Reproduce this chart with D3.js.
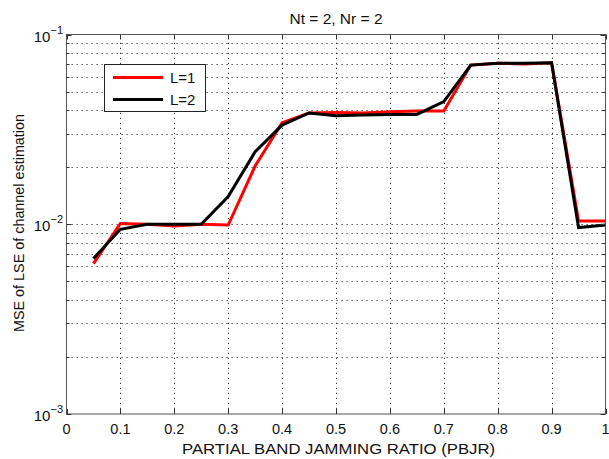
<!DOCTYPE html>
<html>
<head>
<meta charset="utf-8">
<script src="https://cdn.jsdelivr.net/npm/d3@7"></script>
<style>
body{margin:0;background:#fff;}
text{font-family:"Liberation Sans",Arial,sans-serif;fill:#111;}
</style>
</head>
<body>
<script>

// donnees
var pbjr=[0.05,0.1,0.15,0.2,0.25,0.3,0.35,0.4,0.45,0.5,0.55,0.6,0.65,0.7,0.75,0.8,0.85,0.9,0.95,1.0];
var mseL1=[0.0062,0.0101,0.0100,0.0098,0.0100,0.0099,0.0203,0.0343,0.0386,0.0388,0.0386,0.0392,0.0395,0.0395,0.0690,0.0705,0.0700,0.0710,0.0104,0.0104];
var mseL2=[0.0066,0.0094,0.0100,0.0100,0.0100,0.0140,0.0241,0.0333,0.0386,0.0373,0.0377,0.0379,0.0379,0.0443,0.0690,0.0705,0.0705,0.0710,0.0096,0.0099];
var xTicks=[0,0.1,0.2,0.3,0.4,0.5,0.6,0.7,0.8,0.9,1];
var yDecades=[-3,-2,-1];
var series=[{label:"L=1",color:"#ff0000",values:mseL1},{label:"L=2",color:"#000000",values:mseL2}];

var width=609,height=459;
var margin={top:34.5,right:3.5,bottom:45,left:66.5};

var svg=d3.select("body").append("svg")
	.attr("width",width)
	.attr("height",height);

var x=d3.scaleLinear().domain([0,1]).range([margin.left,width-margin.right]);
var y=d3.scaleLog().domain([1e-3,1e-1]).range([height-margin.bottom,margin.top]);

// lignes mineures (2..9 par decade)
var minor=[];
yDecades.slice(0,2).forEach(function(e){
	for(var k=2;k<=9;k++){minor.push(k*Math.pow(10,e));}
});
var major=yDecades.map(function(e){return Math.pow(10,e);});

var grid=svg.append("g").attr("class","grid")
	.attr("stroke","#333").attr("stroke-width",1).attr("stroke-dasharray","1.2,3.8");

grid.selectAll("line.h").data(minor.concat(major.slice(1,2)))
	.enter().append("line")
	.attr("x1",x(0)).attr("x2",x(1))
	.attr("y1",function(d){return Math.round(y(d))+0.5;})
	.attr("y2",function(d){return Math.round(y(d))+0.5;});

grid.selectAll("line.v").data(xTicks.slice(1,-1))
	.enter().append("line")
	.attr("y1",y(1e-3)).attr("y2",y(1e-1))
	.attr("x1",function(d){return Math.round(x(d))+0.5;})
	.attr("x2",function(d){return Math.round(x(d))+0.5;});

// courbes
var line=d3.line()
	.x(function(d,i){return x(pbjr[i]);})
	.y(function(d){return y(d);});

svg.selectAll("path.serie").data(series)
	.enter().append("path")
	.attr("class","serie")
	.attr("d",function(s){return line(s.values);})
	.attr("fill","none")
	.attr("stroke",function(s){return s.color;})
	.attr("stroke-width",3)
	.attr("stroke-linejoin","miter");

// axes (ticks vers l'interieur, en haut/bas et gauche/droite)
var axes=svg.append("g").attr("stroke","#333").attr("stroke-width",1);
var x0=x(0),x1=x(1),yb=y(1e-3),yt=y(1e-1);

axes.append("rect")
	.attr("x",x0).attr("y",yt)
	.attr("width",x1-x0).attr("height",yb-yt)
	.attr("fill","none").attr("stroke","#555");

xTicks.forEach(function(t){
	var px=Math.round(x(t))+0.5;
	axes.append("line").attr("x1",px).attr("x2",px).attr("y1",yb).attr("y2",yb-5);
	axes.append("line").attr("x1",px).attr("x2",px).attr("y1",yt).attr("y2",yt+5);
});
major.concat(minor).forEach(function(v){
	var py=Math.round(y(v))+0.5;
	var len=major.indexOf(v)>=0?5:3;
	axes.append("line").attr("x1",x0).attr("x2",x0+len).attr("y1",py).attr("y2",py);
	axes.append("line").attr("x1",x1).attr("x2",x1-len).attr("y1",py).attr("y2",py);
});

svg.selectAll("text.xt").data(xTicks)
	.enter().append("text")
	.attr("x",function(d){return x(d);})
	.attr("y",yb+19.5)
	.attr("text-anchor","middle")
	.attr("font-size",14.5)
	.text(function(d){return d3.format("")(d);});

var yl=svg.selectAll("text.yt").data(yDecades)
	.enter().append("text")
	.attr("x",x0-3.5)
	.attr("y",function(d){return y(Math.pow(10,d))+7;})
	.attr("text-anchor","end")
	.attr("font-size",15);
yl.append("tspan").text("10");
yl.append("tspan").attr("dy",-8).attr("font-size",11).text(function(d){return "\u2212"+(-d);});

// titres
svg.append("text")
	.attr("x",(x0+x1)/2).attr("y",24)
	.attr("text-anchor","middle").attr("font-size",15.5)
	.text("Nt = 2, Nr = 2");

svg.append("text")
	.attr("x",(182+495)/2).attr("y",yb+40)
	.attr("text-anchor","middle").attr("font-size",15)
	.attr("textLength",313).attr("lengthAdjust","spacingAndGlyphs")
	.text("PARTIAL BAND JAMMING RATIO (PBJR)");

svg.append("text")
	.attr("transform","translate(23.5,"+((114+332)/2)+") rotate(-90)")
	.attr("text-anchor","middle").attr("font-size",15)
	.attr("textLength",218).attr("lengthAdjust","spacingAndGlyphs")
	.text("MSE of LSE of channel estimation");

// legende
var lg=svg.append("g").attr("transform","translate(104,64)");
lg.append("rect").attr("x",0.5).attr("y",0.5).attr("width",101).attr("height",47)
	.attr("fill","#fff").attr("stroke","#222");
series.forEach(function(s,i){
	var ly=13.5+i*22;
	lg.append("line").attr("x1",9).attr("x2",59).attr("y1",ly).attr("y2",ly)
		.attr("stroke",s.color).attr("stroke-width",3);
	lg.append("text").attr("x",66).attr("y",ly+5.5).attr("font-size",15).text(s.label);
});

</script>
</body>
</html>
